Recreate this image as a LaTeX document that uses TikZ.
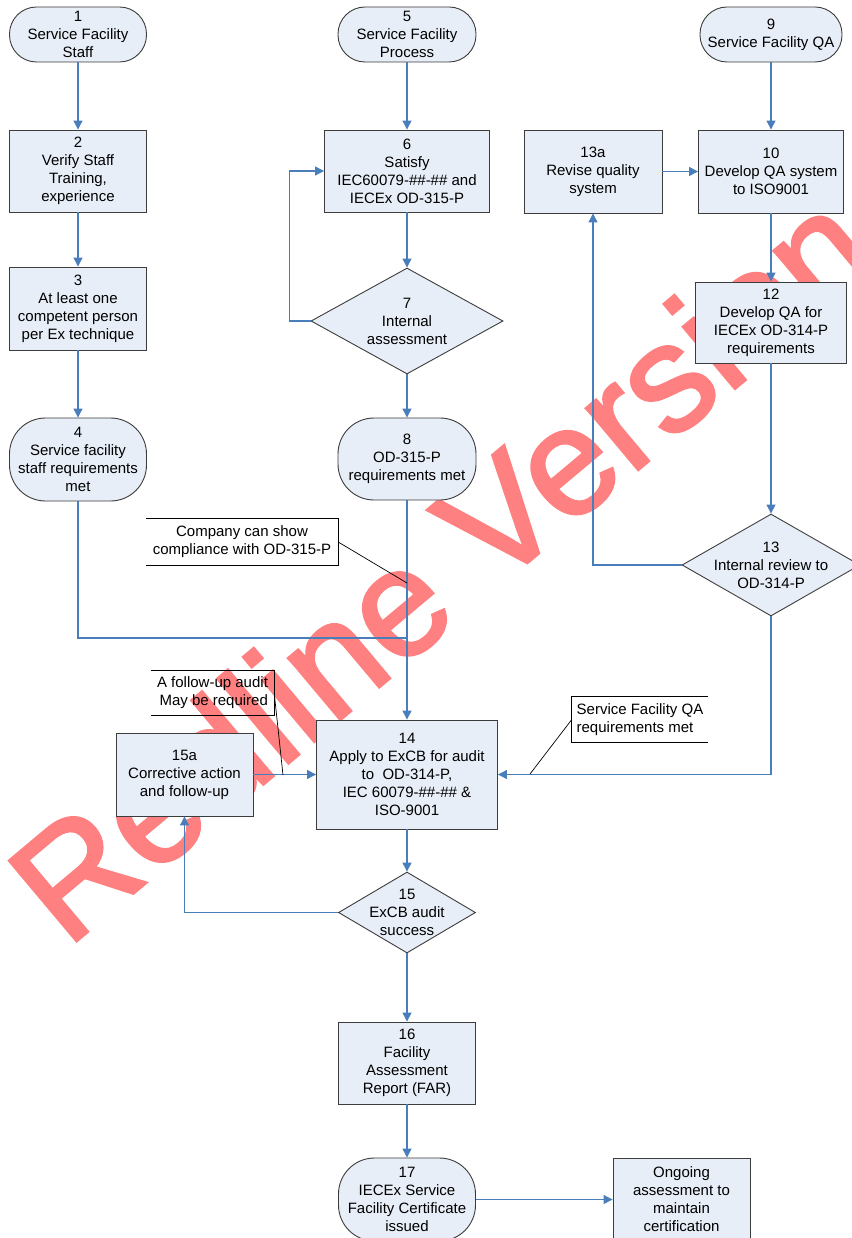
\documentclass[tikz,border=0pt]{standalone}
\usepackage{fontspec}
\setmainfont{Liberation Sans}
\newfontfamily\markfont[FakeBold=2]{Liberation Sans}
\usetikzlibrary{positioning,shapes.geometric,arrows.meta}
\definecolor{boxfill}{RGB}{232,238,247}
\definecolor{flowblue}{RGB}{74,126,187}
\definecolor{boxline}{RGB}{60,60,60}
\definecolor{markred}{RGB}{255,128,128}
\tikzset{
  every node/.style={font=\fontsize{15}{18}\selectfont},
  proc/.style={draw=boxline, fill=boxfill, line width=0.9pt, align=center, inner sep=0pt, minimum width=137pt, minimum height=83pt},
  term/.style={proc, rounded corners=27pt, minimum height=55pt},
  tallterm/.style={proc, rounded corners=36pt},
  decision/.style={diamond, draw=boxline, fill=boxfill, line width=0.9pt, inner sep=0pt},
  note/.style={inner sep=0pt},
  flow/.style={draw=flowblue, line width=1.2pt, -{Triangle[length=9pt,width=9pt]}},
  link/.style={draw=flowblue, line width=1.2pt},
  lead/.style={draw=black, line width=0.7pt},
  wmark/.style={text=markred, rotate=40, font=\markfont\fontsize{152}{152}\selectfont}
}

\begin{document}
\begin{tikzpicture}[x=1pt,y=-1pt]
      \useasboundingbox (0,0) rectangle (851,1238);

      % watermark, behind the chart
      \node[wmark] (mark) at (440,565) {Redline Version};

      % Define the nodes of the staff column
      \node[term] (n1) at (78,34.5) {1\\Service Facility\\Staff};
      \node[proc, minimum height=82pt] (n2) at (78,171) {2\\Verify Staff\\Training,\\experience};
      \node[proc] (n3) at (78,308.5) {3\\At least one\\competent person\\per Ex technique};
      \node[tallterm] (n4) at (78,459.5) {4\\Service facility\\staff requirements\\met};

      % the process column
      \node[term, minimum width=138pt] (n5) at (407,34.5) {5\\Service Facility\\Process};
      \node[proc, minimum width=165pt, minimum height=82pt] (n6) at (407,171) {6\\Satisfy\\IEC60079-\#\#-\#\# and\\IECEx OD-315-P};
      \node[decision, minimum width=192pt, minimum height=106pt,
            label={[align=center]center:{7\\Internal\\assessment}}] (n7) at (407,321) {};
      \node[tallterm, minimum width=138pt, minimum height=82pt] (n8) at (407,459) {8\\OD-315-P\\requirements met};

      % the QA column
      \node[term, minimum width=142pt] (n9) at (771,34.5) {9\\Service Facility QA};
      \node[proc, minimum width=145pt] (n10) at (771,171.5) {10\\Develop QA system\\to ISO9001};
      \node[proc, minimum width=138pt] (n13a) at (593,171.5) {13a\\Revise quality\\system};
      \node[proc, minimum width=151pt, minimum height=81pt] (n12) at (771,322.5) {12\\Develop QA for\\IECEx OD-314-P\\requirements};
      \node[decision, minimum width=178pt, minimum height=102pt,
            label={[align=center]center:{13\\Internal review to\\OD-314-P}}] (n13) at (771,565) {};

      % audit and certificate
      \node[proc, minimum width=181pt, minimum height=109pt] (n14) at (407,774.5) {14\\Apply to ExCB for audit\\to\ \ OD-314-P,\\IEC 60079-\#\#-\#\# \&\\ISO-9001};
      \node[proc] (n15a) at (184.5,774.5) {15a\\Corrective action\\and follow-up};
      \node[decision, minimum width=137pt, minimum height=81pt,
            label={[align=center]center:{15\\ExCB audit\\success}}] (n15) at (407,912.5) {};
      \node[proc, minimum height=82pt] (n16) at (407,1063) {16\\Facility\\Assessment\\Report (FAR)};
      \node[tallterm] (n17) at (407,1199.5) {17\\IECEx Service\\Facility Certificate\\issued};
      \node[proc] (ongoing) at (681.5,1199.5) {Ongoing\\assessment to\\maintain\\certification};

      % notes
      \node[note, align=center, minimum width=192pt, minimum height=46pt] (cnote) at (242,542) {Company can show\\compliance with OD-315-P};
      \node[note, align=right, minimum width=123pt, minimum height=44pt] (fnote) at (212.5,693) {A follow-up audit\\May be required};
      \node[note, align=left, minimum width=136pt, minimum height=45pt] (qnote) at (640,719.5) {Service Facility QA\\requirements met};
      \draw[lead] (cnote.north west) -- (cnote.north east) -- (cnote.south east) -- (cnote.south west);
      \draw[lead] (fnote.north west) -- (fnote.north east) -- (fnote.south east) -- (fnote.south west);
      \draw[lead] (qnote.north east) -- (qnote.north west) -- (qnote.south west) -- (qnote.south east);

      \coordinate (j1) at (n14.north |- 0,638);
      \coordinate (c1) at (407,583);
      \coordinate (c2) at (283,775);
      \coordinate (c3) at (530,774);

      \draw[flow] (n1) -- (n2);
      \draw[flow] (n2) -- (n3);
      \draw[flow] (n3) -- (n4);
      \draw[link] (n4.south) |- (j1);

      \draw[flow] (n5) -- (n6);
      \draw[flow] (n6) -- (n7);
      \draw[flow] (n7) -- (n8);
      \draw[flow] (n7.west) -- ++(-21,0) |- (n6.west);
      \draw[flow] (n8.south) -- (n14.north);

      \draw[flow] (n9) -- (n10);
      \draw[flow] (n13a) -- (n10);
      \draw[flow] (n10) -- (n12);
      \draw[flow] (n12.south) -- (n13.north);
      \draw[flow] (n13.west) -| (n13a.south);
      \draw[flow] (n13.south) |- (n14.east);

      \draw[flow] (n15a) -- (n14);
      \draw[flow] (n14) -- (n15.north);
      \draw[flow] (n15.west) -| (n15a.south);
      \draw[flow] (n15.south) -- (n16);
      \draw[flow] (n16) -- (n17);
      \draw[flow] (n17) -- (ongoing);

      \draw[lead] (cnote.east) -- (c1);
      \draw[lead] (fnote.east) -- (c2);
      \draw[lead] (qnote.west) -- (c3);
\end{tikzpicture}
\end{document}
